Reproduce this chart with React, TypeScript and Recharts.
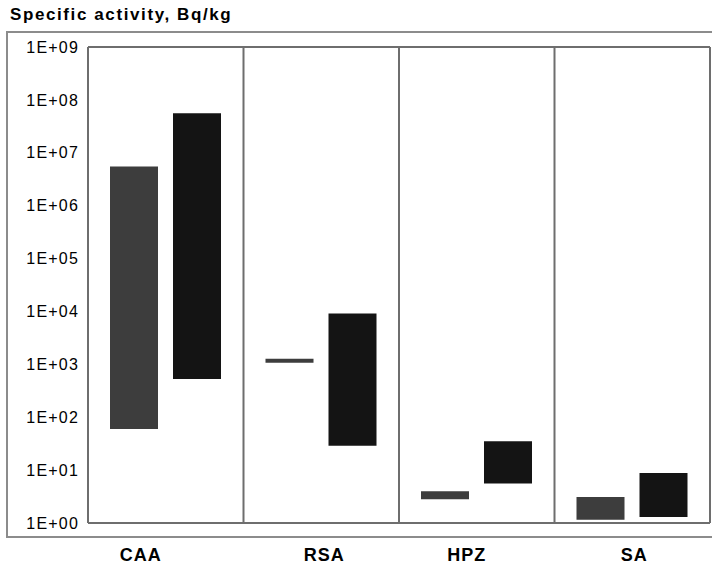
import React from 'react';
import { BarChart, Bar, XAxis, YAxis, CartesianGrid } from 'recharts';

// sampling areas along the x axis
const CATEGORIES = ['CAA', 'RSA', 'HPZ', 'SA'];

// min / max specific activity, Bq/kg
const GRAY_RANGES: [number, number][] = [
  [60, 5.5e6],
  [1070, 1280],
  [2.8, 4.0],
  [1.15, 3.1],
];
const BLACK_RANGES: [number, number][] = [
  [530, 5.6e7],
  [29, 9100],
  [5.6, 35],
  [1.3, 8.8],
];

const Y_TICKS = [1, 10, 100, 1e3, 1e4, 1e5, 1e6, 1e7, 1e8, 1e9];

const chartData = CATEGORIES.map((cat, i) => ({
  cat,
  gray: GRAY_RANGES[i],
  black: BLACK_RANGES[i],
}));

const FONT = '"Liberation Sans", Arial, sans-serif';

// the original labels sit a little off the band centres
const LABEL_NUDGE = [-25, 3, -10, 2];

function formatExp(v: number) {
  const p = Math.round(Math.log10(v));
  return '1E+' + String(p).padStart(2, '0');
}

function CategoryTick(props: any) {
  const { x, y, payload, index } = props;
  return (
    <text
      x={x + (LABEL_NUDGE[index] || 0)}
      y={y}
      dy="0.71em"
      textAnchor="middle"
      fill="#000"
      fontSize={18}
      fontWeight="bold"
      fontFamily={FONT}
      letterSpacing={1}
    >
      {payload.value}
    </text>
  );
}

export default function App() {
  return (
    <div
      style={{
        position: 'absolute',
        left: 0,
        top: 0,
        width: 712,
        height: 568,
        overflow: 'hidden',
        background: '#fff',
        fontFamily: FONT,
      }}
    >
      <div
        style={{
          position: 'absolute',
          left: 10,
          top: 5,
          fontSize: 17,
          fontWeight: 'bold',
          letterSpacing: 1.6,
          color: '#000',
          whiteSpace: 'nowrap',
        }}
      >
        Specific activity, Bq/kg
      </div>
      {/* outer frame around the plot */}
      <div
        style={{
          position: 'absolute',
          left: 6,
          top: 31,
          width: 720,
          height: 503,
          border: '2px solid #8c8c8c',
        }}
      />
      <div style={{ position: 'absolute', left: 0, top: 0 }}>
        <BarChart
          width={712}
          height={568}
          data={chartData}
          margin={{ top: 47, right: 2, bottom: 0, left: 8 }}
          barSize={48}
          barGap={15}
        >
          <CartesianGrid
            stroke="#6e6e6e"
            strokeWidth={2}
            horizontalCoordinatesGenerator={({ offset }: any) => [
              offset.top,
              offset.top + offset.height,
            ]}
            verticalCoordinatesGenerator={({ offset }: any) =>
              CATEGORIES.map(
                (_, i) => offset.left + (i * offset.width) / CATEGORIES.length
              ).concat(offset.left + offset.width)
            }
          />
          <XAxis
            dataKey="cat"
            height={45}
            axisLine={false}
            tickLine={false}
            tickSize={0}
            tickMargin={25}
            tick={<CategoryTick />}
          />
          <YAxis
            scale="log"
            domain={[1, 1e9]}
            ticks={Y_TICKS}
            allowDataOverflow
            width={80}
            axisLine={false}
            tickLine={false}
            tickSize={0}
            tickMargin={9}
            interval={0}
            tickFormatter={formatExp}
            tick={{
              fill: '#000',
              fontSize: 16,
              fontFamily: FONT,
              letterSpacing: 1.2,
            }}
          />
          <Bar dataKey="gray" fill="#3d3d3d" isAnimationActive={false} />
          <Bar dataKey="black" fill="#141414" isAnimationActive={false} />
        </BarChart>
      </div>
    </div>
  );
}
